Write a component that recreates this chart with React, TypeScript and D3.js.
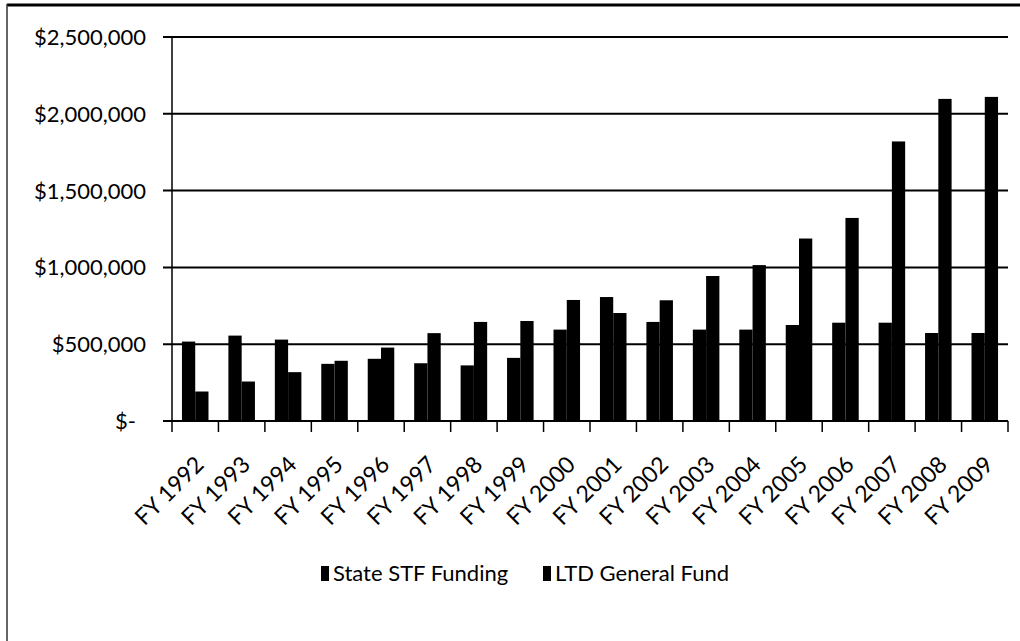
import React from "react";
import * as d3 from "d3";

const categories = [
  "FY 1992", "FY 1993", "FY 1994", "FY 1995", "FY 1996", "FY 1997",
  "FY 1998", "FY 1999", "FY 2000", "FY 2001", "FY 2002", "FY 2003",
  "FY 2004", "FY 2005", "FY 2006", "FY 2007", "FY 2008", "FY 2009",
];
const stateSTF = [
  517000, 556000, 530000, 372000, 405000, 376000, 362000, 411000, 595000,
  807000, 645000, 595000, 595000, 625000, 640000, 640000, 573000, 573000,
];
const ltdGeneral = [
  192000, 257000, 318000, 392000, 478000, 572000, 645000, 651000, 788000,
  703000, 786000, 944000, 1015000, 1188000, 1322000, 1820000, 2097000, 2110000,
];
const seriesNames = ["State STF Funding", "LTD General Fund"];
const yTicks = [0, 500000, 1000000, 1500000, 2000000, 2500000];

const W = 1020;
const H = 641;
const FONT = "Lato, 'Open Sans', sans-serif";

export default function App() {
  const x = d3.scaleBand<string>().domain(categories).range([172, 1008]).padding(0);
  const sub = d3
    .scaleBand<string>()
    .domain(["s", "l"])
    .range([0, x.step()])
    .paddingInner(0)
    .paddingOuter(0.75);
  const y = d3.scaleLinear().domain([0, 2500000]).range([421, 37]);
  const fmt = d3.format("$,");

  const series = [
    { key: "s", values: stateSTF },
    { key: "l", values: ltdGeneral },
  ];

  return (
    <svg
      width={W}
      height={H}
      style={{ position: "absolute", left: 0, top: 0, background: "#fff" }}
      fontFamily={FONT}
    >
      {/* outer frame */}
      <line x1={7} y1={5} x2={W} y2={5} stroke="#000" strokeWidth={3} />
      <line x1={7} y1={4} x2={7} y2={H} stroke="#333" strokeWidth={1.5} />

      {/* gridlines + y ticks */}
      {yTicks.map((t) => (
        <g key={t}>
          <line x1={163} x2={1008} y1={y(t)} y2={y(t)} stroke="#000" strokeWidth={2} />
          <text
            x={t === 0 ? 136 : 146}
            y={y(t)}
            dy="0.36em"
            textAnchor="end"
            fontSize={22}
            fill="#000"
          >
            {t === 0 ? "$-" : fmt(t)}
          </text>
        </g>
      ))}

      {/* y axis */}
      <line x1={172} x2={172} y1={y(2500000)} y2={y(0)} stroke="#000" strokeWidth={1.5} />

      {/* bars */}
      {series.map((s) =>
        s.values.map((v, i) => (
          <rect
            key={s.key + i}
            x={(x(categories[i]) as number) + (sub(s.key) as number)}
            y={y(v)}
            width={sub.bandwidth()}
            height={y(0) - y(v)}
            fill="#000"
          />
        ))
      )}

      {/* x axis ticks */}
      {[...categories.map((c) => x(c) as number), 1008].map((px, i) => (
        <line key={i} x1={px} x2={px} y1={y(0)} y2={y(0) + 11} stroke="#000" strokeWidth={1.5} />
      ))}

      {/* x labels */}
      {categories.map((c) => {
        const cx = (x(c) as number) + x.bandwidth() / 2;
        return (
          <text
            key={c}
            transform={`translate(${cx + 10},${466}) rotate(-45)`}
            textAnchor="end"
            fontSize={23}
            fill="#000"
          >
            {c}
          </text>
        );
      })}

      {/* legend */}
      <rect x={321} y={566} width={8} height={15} fill="#000" />
      <text x={333} y={581} fontSize={22} fill="#000">
        {seriesNames[0]}
      </text>
      <rect x={543} y={566} width={8} height={15} fill="#000" />
      <text x={555} y={581} fontSize={22} fill="#000">
        {seriesNames[1]}
      </text>
    </svg>
  );
}
